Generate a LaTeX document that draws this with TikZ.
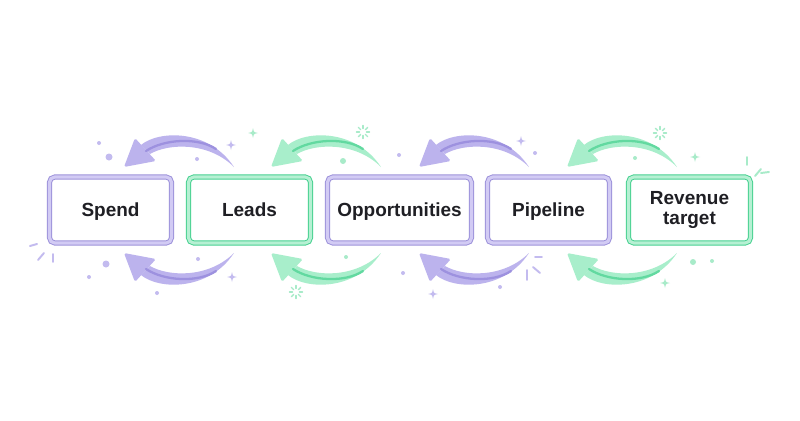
\documentclass[tikz,border=0pt]{standalone}
\usepackage{fontspec}
\setmainfont{Liberation Sans}
\usetikzlibrary{calc}
\definecolor{rvnInk}{HTML}{1F1F24}
\definecolor{rvnLav}{HTML}{9C91DA}
\definecolor{rvnLavPale}{HTML}{D2CBF4}
\definecolor{rvnLavArrow}{HTML}{BCB3ED}
\definecolor{rvnLavLine}{HTML}{9D91DF}
\definecolor{rvnLavDeco}{HTML}{C3BBEF}
\definecolor{rvnMint}{HTML}{45D08F}
\definecolor{rvnMintPale}{HTML}{B6F0D3}
\definecolor{rvnMintArrow}{HTML}{A8EECB}
\definecolor{rvnMintLine}{HTML}{62D9A0}
\definecolor{rvnMintDeco}{HTML}{A8EBC9}
\tikzset{
  rvn box/.style={rectangle, rounded corners=3pt, line width=0.55pt, double distance=1.8pt,
    fill=white, minimum width=2.44cm, minimum height=1.32cm, inner sep=2pt, align=center,
    font=\fontsize{10.8pt}{11.8pt}\selectfont\bfseries, text=rvnInk},
  rvn one line/.style={text height=10pt, text depth=2.3pt},
  rvn lav box/.style={rvn box, draw=rvnLav, double=rvnLavPale},
  rvn mint box/.style={rvn box, draw=rvnMint, double=rvnMintPale},
  rvn tick/.style={line width=1.1pt, line cap=round},
  rvn sparkle/.pic={
    \fill[pic actions] (0,5) .. controls (0.8,0.8) .. (5,0) .. controls (0.8,-0.8) .. (0,-5)
      .. controls (-0.8,-0.8) .. (-5,0) .. controls (-0.8,0.8) .. (0,5) -- cycle;
  },
  rvn burst/.pic={
    \foreach \a in {0,45,...,315} {
      \draw[pic actions, line width=0.8pt, line cap=round] (\a:3.5) -- (\a:6.5);
    }
  },
}

\begin{document}
\begin{tikzpicture}[x=0.02cm, y=0.02cm]
  \fill[white] (0,0) rectangle (800,420);
  \useasboundingbox (0,0) rectangle (800,420);

  % The five stages, left to right
  \node[rvn lav box, rvn one line] (spend) at (110.5,210) {Spend};
  \node[rvn mint box, rvn one line] (leads) at (249.5,210) {Leads};
  \node[rvn lav box, rvn one line, minimum width=2.88cm] (opps) at (399.5,210) {Opportunities};
  \node[rvn lav box, rvn one line] (pipe) at (548.5,210) {Pipeline};
  \node[rvn mint box] (rev) at (689.5,210) {Revenue\\target};

  % Curved arrows above and below each gap (bottom one is the mirror image)
  \foreach \src/\dst/\col/\dx in {leads/spend/Lav/-48, opps/leads/Mint/-40,
                                  pipe/opps/Lav/-53, rev/pipe/Mint/-43} {
    \foreach \flip in {1,-1} {
      \begin{scope}[shift={(\dst.east)}, yscale=\flip, shift={(\dx,43)}]
        \fill[rvn\col Arrow, rounded corners=1pt] (0,0) -- (11,29) -- (32,6) -- cycle;
        \fill[rvn\col Arrow] (17,22) .. controls (35,37) and (85,38) .. (110,0)
          .. controls (85,25) and (45,24) .. (26,13) -- cycle;
        \draw[rvn\col Line, line width=1.3pt, line cap=round]
          (22,16) .. controls (40,28) and (74,30) .. (92,18);
      \end{scope}
    }
  }

  % Purple dots
  \foreach \x/\y/\r in {99/277/2, 109/263/3.5, 197/261/2, 106/156/3.5, 89/143/2, 198/161/2,
                        157/127/2, 399/265/2, 535/267/2, 403/147/2, 500/133/2} {
    \fill[rvnLavDeco] (\x,\y) circle (\r);
  }
  % Green dots
  \foreach \x/\y/\r in {343/259/3, 346/163/2, 635/262/2, 693/158/3, 712/159/2} {
    \fill[rvnMintDeco] (\x,\y) circle (\r);
  }

  % Sparkles and bursts
  \pic[fill=rvnLavDeco] at (231,275) {rvn sparkle};
  \pic[fill=rvnLavDeco] at (232,143) {rvn sparkle};
  \pic[fill=rvnLavDeco] at (521,279) {rvn sparkle};
  \pic[fill=rvnLavDeco] at (433,126) {rvn sparkle};
  \pic[fill=rvnMintDeco] at (253,287) {rvn sparkle};
  \pic[fill=rvnMintDeco] at (695,263) {rvn sparkle};
  \pic[fill=rvnMintDeco] at (665,137) {rvn sparkle};
  \pic[draw=rvnMintDeco] at (363,288) {rvn burst};
  \pic[draw=rvnMintDeco] at (296,128) {rvn burst};
  \pic[draw=rvnMintDeco] at (660,287) {rvn burst};

  % Little tick marks at the corners
  \draw[rvn tick, rvnLavDeco] (30,174) -- (37,176) (38,160) -- (44,167) (53,166) -- (53,158);
  \draw[rvn tick, rvnLavDeco] (535,163) -- (542,163) (533,153) -- (540,147) (527,150) -- (527,140);
  \draw[rvn tick, rvnMintDeco] (747,263) -- (747,255) (755,244) -- (761,251) (761,247) -- (769,248);
\end{tikzpicture}
\end{document}
